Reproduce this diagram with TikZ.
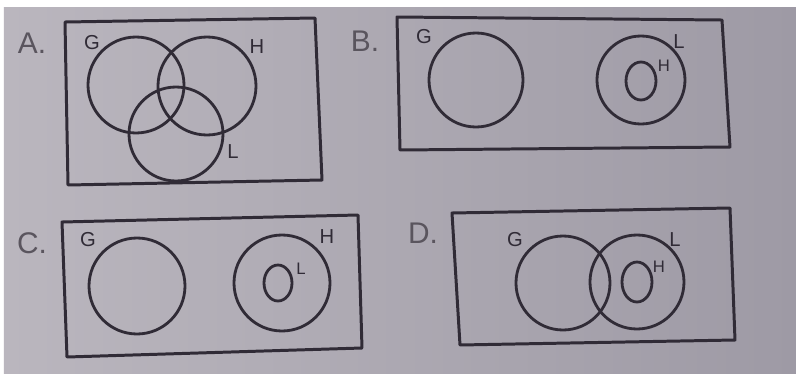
\documentclass[tikz,border=0pt]{standalone}
\usepackage{fontspec}
\setmainfont{Liberation Sans}
\definecolor{ink}{RGB}{48,43,54}
\definecolor{paperL}{RGB}{186,182,190}
\definecolor{paperR}{RGB}{158,154,165}

\begin{document}
\begin{tikzpicture}[x=0.02cm,y=-0.02cm,
    frame/.style={draw=ink,line width=1.7pt,line join=round},
    set/.style={draw=ink,line width=1.6pt},
    option/.style={text=ink!80,font=\fontsize{17}{17}\selectfont},
    setname/.style={text=ink,font=\fontsize{11.5}{12}\selectfont,inner sep=0pt},
    subname/.style={text=ink,font=\fontsize{9.5}{10}\selectfont,inner sep=0pt}]
    \useasboundingbox (0,0) rectangle (796,373);
    \fill[white] (0,0) rectangle (796,373);
    \shade[left color=paperL,right color=paperR] (4,7) rectangle (796,373);

    % A
    \draw[frame] (65,22)--(315,18)--(322,180)--(68,185)--cycle;
    \draw[set] (136,85) circle[radius=48];
    \draw[set] (207,86) circle[radius=49];
    \draw[set] (176,134) circle[radius=47];
    \node[option] (labA) at (32,43) {A.};
    \node[setname] (gA) at (92,43) {G};
    \node[setname] (hA) at (257,47) {H};
    \node[setname] (lA) at (233,152) {L};

    % B
    \draw[frame] (397,17)--(722,20)--(730,147)--(400,150)--cycle;
    \draw[set] (476,80) circle[radius=47];
    \draw[set] (641,80) circle[radius=44];
    \draw[set] (641,81) ellipse[x radius=15,y radius=19];
    \node[option] (labB) at (365,41) {B.};
    \node[setname] (gB) at (424,37) {G};
    \node[setname] (lB) at (679,42) {L};
    \node[subname] (hB) at (664,66) {H};

    % C
    \draw[frame] (62,222)--(358,215)--(362,348)--(67,357)--cycle;
    \draw[set] (137,286) circle[radius=48];
    \draw[set] (282,283) circle[radius=48];
    \draw[set] (278,283) ellipse[x radius=14,y radius=18];
    \node[option] (labC) at (32,243) {C.};
    \node[setname] (gC) at (88,240) {G};
    \node[setname] (hC) at (327,237) {H};
    \node[subname] (lC) at (301,269) {L};

    % D
    \draw[frame] (452,213)--(730,208)--(735,340)--(460,345)--cycle;
    \draw[set] (563,283) circle[radius=47];
    \draw[set] (637,282) circle[radius=47];
    \draw[set] (637,282) ellipse[x radius=15,y radius=20];
    \node[option] (labD) at (423,233) {D.};
    \node[setname] (gD) at (515,240) {G};
    \node[setname] (lD) at (675,240) {L};
    \node[subname] (hD) at (659,267) {H};
\end{tikzpicture}
\end{document}
